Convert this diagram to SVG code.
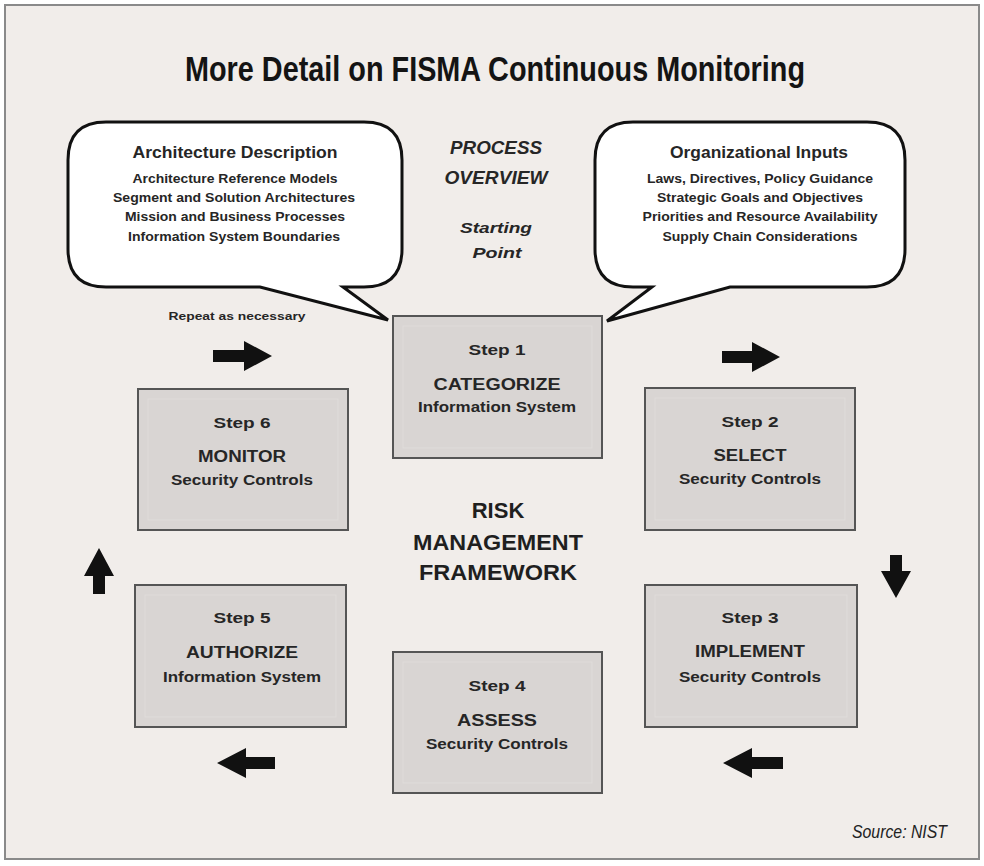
<svg xmlns="http://www.w3.org/2000/svg" width="984" height="866" viewBox="0 0 984 866">
  <defs>
    <style>
      .frame { fill: #f1edea; stroke: #8a8a8a; stroke-width: 2; }
      .bubble { fill: #ffffff; stroke: #111111; stroke-width: 3; stroke-linejoin: miter; }
      .box { fill: #d9d5d3; stroke: #555555; stroke-width: 2; }
      .inner { fill: none; stroke: #dfdcda; stroke-width: 1; }
      .arrow { fill: #111111; }
      text { font-family: "Liberation Sans", Arial, sans-serif; fill: #262626; text-anchor: middle; font-weight: bold; }
      .title { font-family: "Liberation Sans Narrow", "Liberation Sans", sans-serif; font-size: 35px; fill: #141414; }
      .bh { font-size: 16px; }
      .bl { font-size: 12.5px; }
      .po { font-size: 18px; font-style: italic; }
      .sp { font-size: 15px; font-style: italic; }
      .rep { font-size: 11.5px; }
      .st { font-size: 14.5px; }
      .nm { font-size: 16px; }
      .sub { font-size: 14px; }
      .rmf { font-size: 22px; fill: #1f1f1f; }
      .src { font-family: "Liberation Sans Narrow", "Liberation Sans", sans-serif; font-weight: normal; font-style: italic; font-size: 19px; fill: #222222; text-anchor: end; }
    </style>
  </defs>

  <rect x="0" y="0" width="984" height="866" fill="#ffffff"/>
  <rect class="frame" x="5" y="5" width="974" height="854"/>

  <text class="title" x="495" y="81" textLength="620" lengthAdjust="spacingAndGlyphs">More Detail on FISMA Continuous Monitoring</text>

  <!-- Callout: architecture description -->
  <g id="architecture-description">
    <path class="bubble" d="M 106 122 H 364 Q 402 122 402 160 V 249 Q 402 287 364 287 H 343 L 388 320 L 260 287 H 106 Q 68 287 68 249 V 160 Q 68 122 106 122 Z"/>
    <text class="bh" x="235" y="158" textLength="205" lengthAdjust="spacingAndGlyphs">Architecture Description</text>
    <text class="bl" x="235" y="183" textLength="205" lengthAdjust="spacingAndGlyphs">Architecture Reference Models</text>
    <text class="bl" x="234" y="202" textLength="242" lengthAdjust="spacingAndGlyphs">Segment and Solution Architectures</text>
    <text class="bl" x="235" y="221" textLength="220" lengthAdjust="spacingAndGlyphs">Mission and Business Processes</text>
    <text class="bl" x="234" y="241" textLength="212" lengthAdjust="spacingAndGlyphs">Information System Boundaries</text>
  </g>

  <!-- Callout: organizational inputs -->
  <g id="organizational-inputs">
    <path class="bubble" d="M 633 122 H 867 Q 905 122 905 160 V 249 Q 905 287 867 287 H 730 L 607 321 L 652 287 H 633 Q 595 287 595 249 V 160 Q 595 122 633 122 Z"/>
    <text class="bh" x="759" y="158" textLength="178" lengthAdjust="spacingAndGlyphs">Organizational Inputs</text>
    <text class="bl" x="760" y="183" textLength="226" lengthAdjust="spacingAndGlyphs">Laws, Directives, Policy Guidance</text>
    <text class="bl" x="760" y="202" textLength="206" lengthAdjust="spacingAndGlyphs">Strategic Goals and Objectives</text>
    <text class="bl" x="760" y="221" textLength="235" lengthAdjust="spacingAndGlyphs">Priorities and Resource Availability</text>
    <text class="bl" x="760" y="241" textLength="195" lengthAdjust="spacingAndGlyphs">Supply Chain Considerations</text>
  </g>

  <!-- Centre headings -->
  <g id="process-overview">
    <text class="po" x="496" y="154" textLength="92" lengthAdjust="spacingAndGlyphs">PROCESS</text>
    <text class="po" x="496" y="184" textLength="103" lengthAdjust="spacingAndGlyphs">OVERVIEW</text>
    <text class="sp" x="496" y="233" textLength="72" lengthAdjust="spacingAndGlyphs">Starting</text>
    <text class="sp" x="497" y="258" textLength="49" lengthAdjust="spacingAndGlyphs">Point</text>
  </g>

  <g id="risk-management-framework">
    <text class="rmf" x="498" y="518">RISK</text>
    <text class="rmf" x="498" y="550" textLength="170" lengthAdjust="spacingAndGlyphs">MANAGEMENT</text>
    <text class="rmf" x="498" y="580" textLength="158" lengthAdjust="spacingAndGlyphs">FRAMEWORK</text>
  </g>

  <text class="rep" x="237" y="320" textLength="137" lengthAdjust="spacingAndGlyphs">Repeat as necessary</text>

  <!-- Steps -->
  <g id="step1">
    <rect class="box" x="393" y="316" width="209" height="142"/>
    <rect class="inner" x="403" y="326" width="189" height="122"/>
    <text class="st" x="497" y="355" textLength="57" lengthAdjust="spacingAndGlyphs">Step 1</text>
    <text class="nm" x="497" y="390" textLength="127" lengthAdjust="spacingAndGlyphs">CATEGORIZE</text>
    <text class="sub" x="497" y="412" textLength="158" lengthAdjust="spacingAndGlyphs">Information System</text>
  </g>

  <g id="step2">
    <rect class="box" x="645" y="388" width="210" height="142"/>
    <rect class="inner" x="655" y="398" width="190" height="122"/>
    <text class="st" x="750" y="427" textLength="57" lengthAdjust="spacingAndGlyphs">Step 2</text>
    <text class="nm" x="750" y="461" textLength="73" lengthAdjust="spacingAndGlyphs">SELECT</text>
    <text class="sub" x="750" y="484" textLength="142" lengthAdjust="spacingAndGlyphs">Security Controls</text>
  </g>

  <g id="step3">
    <rect class="box" x="645" y="585" width="212" height="142"/>
    <rect class="inner" x="655" y="595" width="192" height="122"/>
    <text class="st" x="750" y="623" textLength="57" lengthAdjust="spacingAndGlyphs">Step 3</text>
    <text class="nm" x="750" y="657" textLength="110" lengthAdjust="spacingAndGlyphs">IMPLEMENT</text>
    <text class="sub" x="750" y="682" textLength="142" lengthAdjust="spacingAndGlyphs">Security Controls</text>
  </g>

  <g id="step4">
    <rect class="box" x="393" y="652" width="209" height="141"/>
    <rect class="inner" x="403" y="662" width="189" height="121"/>
    <text class="st" x="497" y="691" textLength="57" lengthAdjust="spacingAndGlyphs">Step 4</text>
    <text class="nm" x="497" y="726" textLength="80" lengthAdjust="spacingAndGlyphs">ASSESS</text>
    <text class="sub" x="497" y="749" textLength="142" lengthAdjust="spacingAndGlyphs">Security Controls</text>
  </g>

  <g id="step5">
    <rect class="box" x="135" y="585" width="211" height="142"/>
    <rect class="inner" x="145" y="595" width="191" height="122"/>
    <text class="st" x="242" y="623" textLength="57" lengthAdjust="spacingAndGlyphs">Step 5</text>
    <text class="nm" x="242" y="658" textLength="112" lengthAdjust="spacingAndGlyphs">AUTHORIZE</text>
    <text class="sub" x="242" y="682" textLength="158" lengthAdjust="spacingAndGlyphs">Information System</text>
  </g>

  <g id="step6">
    <rect class="box" x="138" y="389" width="210" height="141"/>
    <rect class="inner" x="148" y="399" width="190" height="121"/>
    <text class="st" x="242" y="428" textLength="57" lengthAdjust="spacingAndGlyphs">Step 6</text>
    <text class="nm" x="242" y="462" textLength="88" lengthAdjust="spacingAndGlyphs">MONITOR</text>
    <text class="sub" x="242" y="485" textLength="142" lengthAdjust="spacingAndGlyphs">Security Controls</text>
  </g>

  <!-- Flow arrows between steps -->
  <g id="connectors">
    <!-- right-pointing, top left -->
    <polygon class="arrow" points="213,350 244,350 244,341 272,356 244,371 244,362 213,362"/>
    <!-- right-pointing, top right -->
    <polygon class="arrow" points="722,351 752,351 752,342 780,357 752,372 752,363 722,363"/>
    <!-- down-pointing, right side -->
    <polygon class="arrow" points="890,555 902,555 902,571 911,571 896,598 881,571 890,571"/>
    <!-- left-pointing, bottom right -->
    <polygon class="arrow" points="783,757 752,757 752,748 723,763 752,778 752,769 783,769"/>
    <!-- left-pointing, bottom left -->
    <polygon class="arrow" points="275,757 246,757 246,748 217,763 246,778 246,769 275,769"/>
    <!-- up-pointing, left side -->
    <polygon class="arrow" points="93,594 105,594 105,576 114,576 99,548 84,576 93,576"/>
  </g>

  <text class="src" x="947" y="838" textLength="95" lengthAdjust="spacingAndGlyphs">Source: NIST</text>
</svg>
